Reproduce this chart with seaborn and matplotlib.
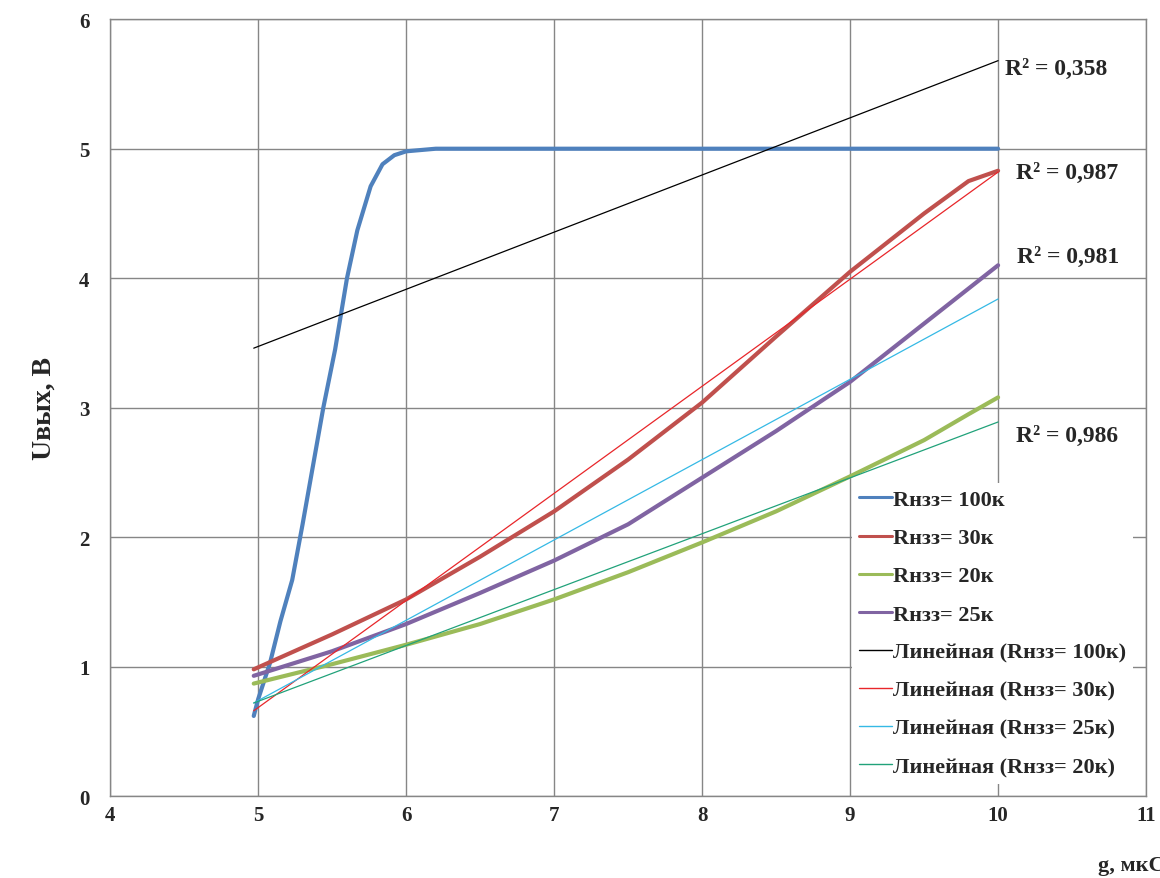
import numpy as np
import pandas as pd
import matplotlib.pyplot as plt
import seaborn as sns

# measured series (g, мкСм -> Uвых, В)
x_100k = [4.97, 5.0, 5.08, 5.15, 5.23, 5.3, 5.37, 5.44, 5.52, 5.6, 5.67, 5.76,
          5.84, 5.92, 6.0, 6.2, 7.0, 8.0, 9.0, 10.0]
u_100k = [0.62, 0.75, 1.03, 1.35, 1.67, 2.1, 2.55, 3.0, 3.45, 4.0, 4.37, 4.71,
          4.88, 4.95, 4.98, 5.0, 5.0, 5.0, 5.0, 5.0]

x_common = [4.97, 5.5, 6.0, 6.5, 7.0, 7.5, 8.0, 8.5, 9.0, 9.5, 9.8, 10.0]
u_30k = [0.98, 1.25, 1.52, 1.85, 2.2, 2.6, 3.04, 3.55, 4.05, 4.5, 4.75, 4.83]
u_25k = [0.93, 1.12, 1.33, 1.57, 1.82, 2.1, 2.46, 2.82, 3.2, 3.65, 3.92, 4.1]
u_20k = [0.87, 1.02, 1.17, 1.33, 1.52, 1.73, 1.96, 2.2, 2.47, 2.75, 2.95, 3.08]

# linear trendlines (end points)
x_trend = [4.97, 10.0]
t_100k = [3.46, 5.68]
t_30k = [0.66, 4.82]
t_25k = [0.72, 3.84]
t_20k = [0.72, 2.89]

r2_labels = ["R² = 0,358", "R² = 0,987", "R² = 0,981", "R² = 0,986"]

sns.set_style("white")
plt.rcParams['font.family'] = ['Liberation Serif', 'DejaVu Serif']
plt.rcParams['font.weight'] = 'bold'

fig = plt.figure(figsize=(11.6, 8.79), dpi=100)
ax = fig.add_axes([0.095, 0.093, 0.893, 0.884])

main = [
    (x_100k, u_100k, '#4F81BD', 'Rнзз= 100к'),
    (x_common, u_30k, '#C0504D', 'Rнзз= 30к'),
    (x_common, u_20k, '#9BBB59', 'Rнзз= 20к'),
    (x_common, u_25k, '#8064A2', 'Rнзз= 25к'),
]
for xs, ys, c, lab in main:
    sns.lineplot(x=xs, y=ys, color=c, linewidth=3.0, label=lab, ax=ax,
                 solid_capstyle='round')

trends = [
    (t_100k, '#000000', 'Линейная (Rнзз= 100к)'),
    (t_30k, '#E8262A', 'Линейная (Rнзз= 30к)'),
    (t_25k, '#35B9E5', 'Линейная (Rнзз= 25к)'),
    (t_20k, '#21A27A', 'Линейная (Rнзз= 20к)'),
]
for ys, c, lab in trends:
    sns.lineplot(x=x_trend, y=ys, color=c, linewidth=0.9, label=lab, ax=ax)

ax.set_xlim(4, 11)
ax.set_ylim(0, 6)
ax.set_xticks(range(4, 12))
ax.set_yticks(range(0, 7))
ax.grid(True, color='#868686', linewidth=1.0)
for s in ax.spines.values():
    s.set_color('#868686')
    s.set_linewidth(1.0)
ax.tick_params(axis='both', direction='out', length=5, color='#868686',
               labelsize=15)
ax.tick_params(axis='x', pad=1.5)
ax.tick_params(axis='y', pad=10)
for lbl in ax.get_xticklabels() + ax.get_yticklabels():
    lbl.set_fontweight('bold')

ax.set_xlabel('')
ax.set_ylabel('Uвых, В', fontsize=20, fontweight='bold', labelpad=16)
fig.text(1098 / 1160, 1 - 866 / 879, 'g, мкСм', fontsize=16,
         fontweight='bold', ha='left', va='center')

r2_pos = [(10.05, 5.62), (10.12, 4.82), (10.13, 4.17), (10.12, 2.79)]
for (px, py), txt in zip(r2_pos, r2_labels):
    ax.text(px, py, txt, fontsize=17, fontweight='bold', ha='left',
            va='center')

leg = ax.legend(loc='upper left', bbox_to_anchor=(852 / 1160, 1 - 484 / 879),
                bbox_transform=fig.transFigure, frameon=True, fancybox=False,
                edgecolor='none', facecolor='white', framealpha=1,
                fontsize=16, handlelength=1.5, handletextpad=0.05,
                labelspacing=0.79, borderpad=0.3, borderaxespad=0)
for t in leg.get_texts():
    t.set_fontweight('bold')
for h in leg.get_lines():
    h.set_linewidth(2.2 if h.get_linewidth() > 2 else 1.0)

fig.savefig('out.png', dpi=100)
